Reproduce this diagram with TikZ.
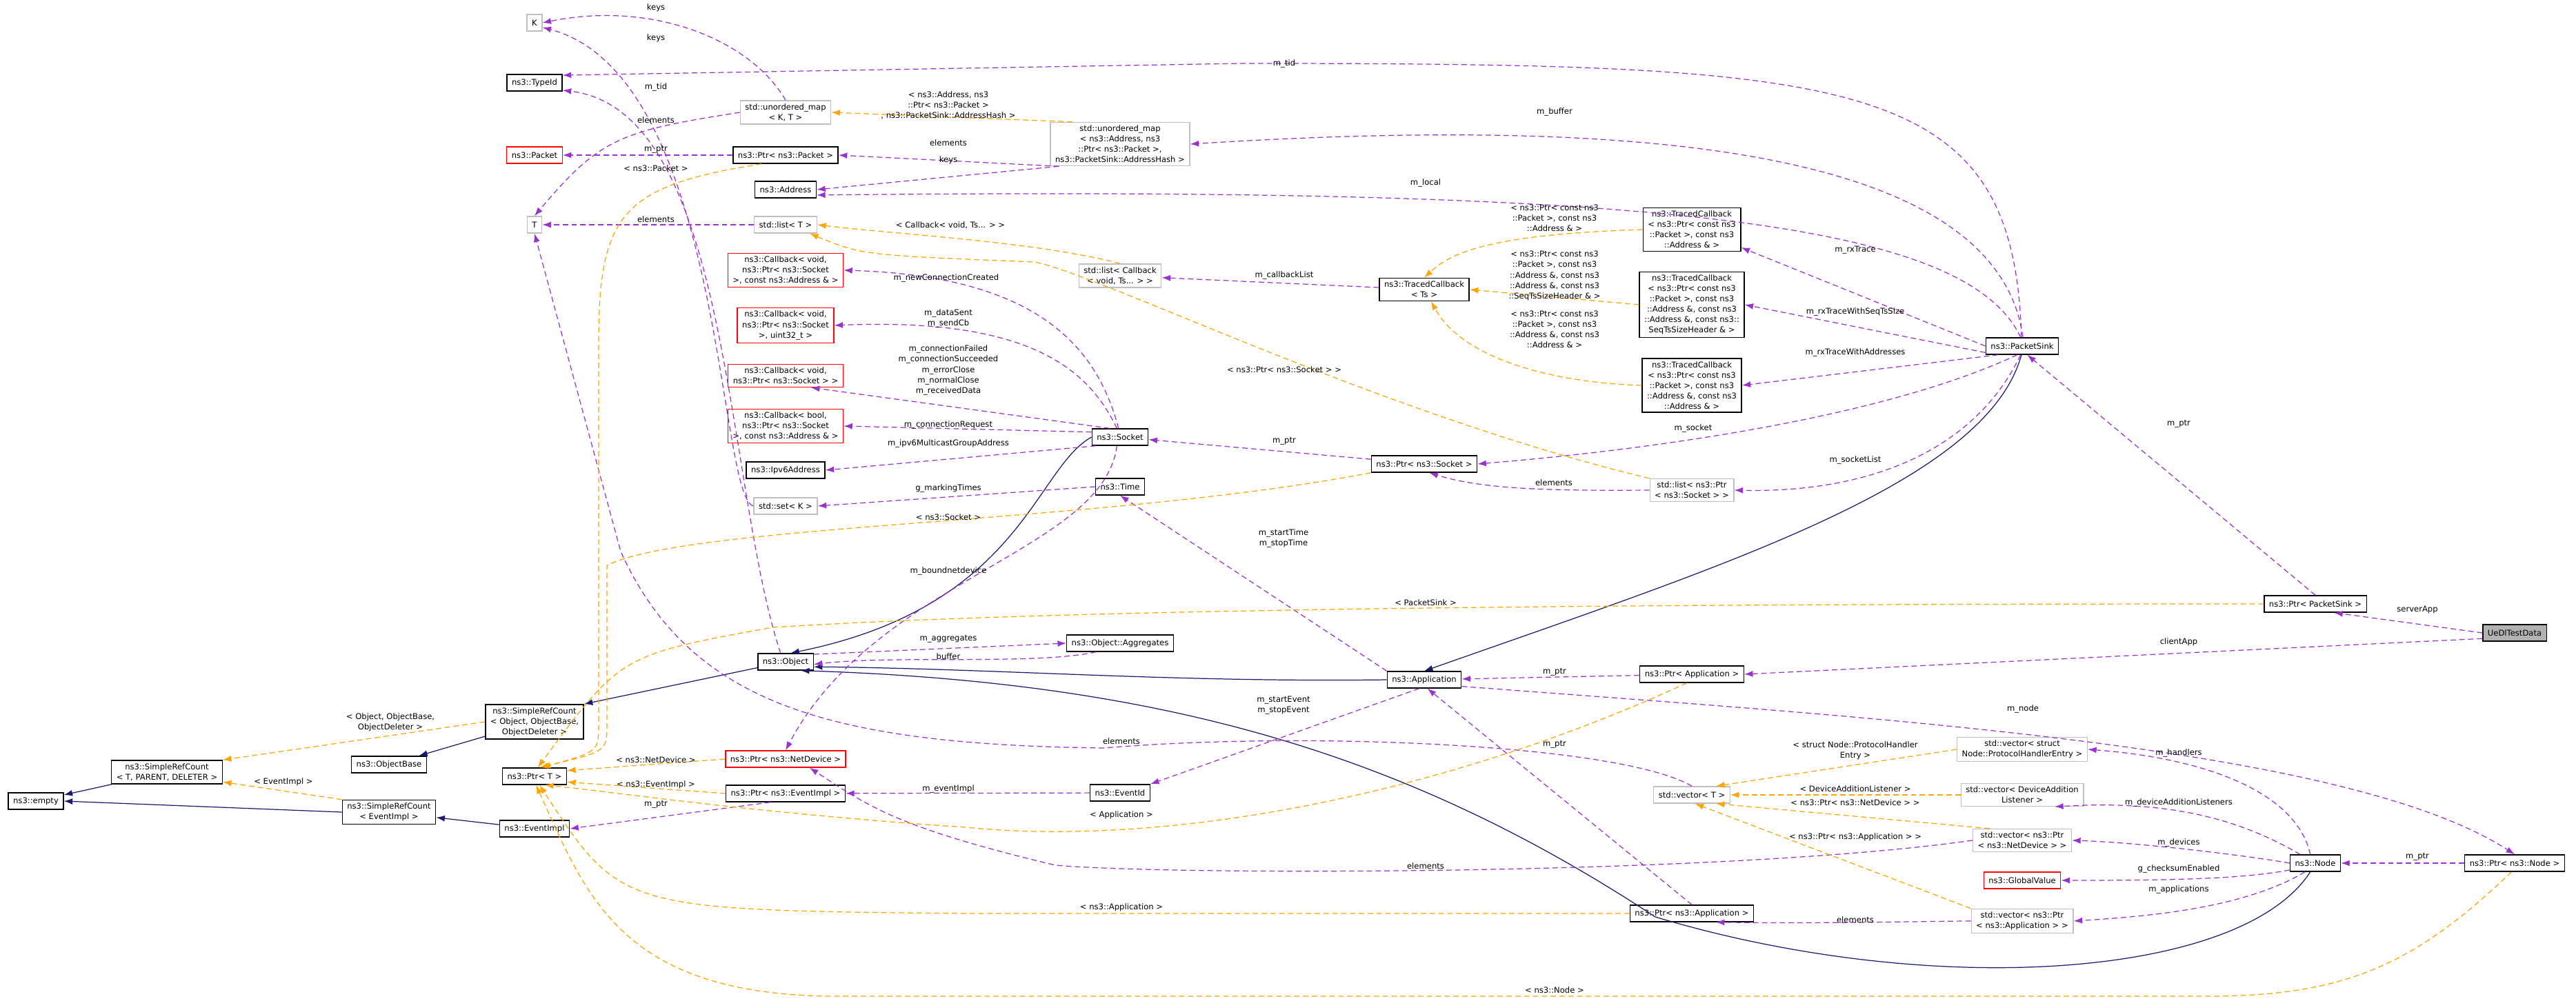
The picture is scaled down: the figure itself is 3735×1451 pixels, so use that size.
\documentclass[tikz,border=0pt]{standalone}
\usepackage{fontspec}
\setmainfont{DejaVu Sans}
\usetikzlibrary{arrows.meta,positioning}

\definecolor{usecol}{HTML}{9A32CD}
\definecolor{tplcol}{HTML}{FFA500}
\definecolor{inhcol}{HTML}{191970}
\definecolor{extcol}{HTML}{BFBFBF}

\tikzset{
  every node/.style={font=\fontsize{6.6}{8.6}\selectfont},
  cls/.style={draw=black, line width=0.8pt, fill=white, align=center, inner xsep=4pt, inner ysep=2.5pt, minimum height=0.48cm},
  ext/.style={cls, draw=extcol},
  trunc/.style={cls, draw=red},
  lbl/.style={align=center, inner sep=0pt},
  use/.style={draw=usecol, line width=0.7pt, dash pattern=on 4.5pt off 2.8pt, -{Latex[length=2.5mm,width=1.8mm]}},
  tpl/.style={use, draw=tplcol},
  inh/.style={draw=inhcol, line width=0.7pt, -{Latex[length=2.5mm,width=1.8mm]}}
}

\begin{document}
\begin{tikzpicture}[x=0.02cm,y=-0.02cm]
\useasboundingbox (0,0) rectangle (3735,1451);

% left column
\node[ext] (K) at (775,33) {K};
\node[cls] (typeId) at (775,120) {ns3::TypeId};
\node[trunc] (packet) at (775,225) {ns3::Packet};
\node[ext] (T) at (775,326) {T};
\node[cls] (srcObj) at (775,1047) {ns3::SimpleRefCount\\{}< Object, ObjectBase,\\ObjectDeleter >};
\node[cls] (objBase) at (564,1109) {ns3::ObjectBase};
\node[cls] (ptrT) at (775,1126) {ns3::Ptr< T >};
\node[cls] (srcTPD) at (242,1120) {ns3::SimpleRefCount\\{}< T, PARENT, DELETER >};
\node[cls] (empty) at (52,1162) {ns3::empty};
\node[cls] (srcEvt) at (564,1178) {ns3::SimpleRefCount\\{}< EventImpl >};
\node[cls] (evtImpl) at (775,1202) {ns3::EventImpl};

% second column
\node[ext] (umapKT) at (1139,163) {std::unordered\_map\\{}< K, T >};
\node[cls] (ptrPacket) at (1139,225) {ns3::Ptr< ns3::Packet >};
\node[cls] (address) at (1139,275) {ns3::Address};
\node[ext] (listT) at (1139,326) {std::list< T >};
\node[trunc] (cbA) at (1139,392) {ns3::Callback< void,\\ns3::Ptr< ns3::Socket\\{}>, const ns3::Address \& >};
\node[trunc] (cbB) at (1139,472) {ns3::Callback< void,\\ns3::Ptr< ns3::Socket\\{}>, uint32\_t >};
\node[trunc] (cbC) at (1139,545) {ns3::Callback< void,\\ns3::Ptr< ns3::Socket > >};
\node[trunc] (cbD) at (1139,618) {ns3::Callback< bool,\\ns3::Ptr< ns3::Socket\\{}>, const ns3::Address \& >};
\node[cls] (ipv6) at (1139,682) {ns3::Ipv6Address};
\node[ext] (setK) at (1139,734) {std::set< K >};
\node[cls] (object) at (1139,960) {ns3::Object};
\node[trunc] (ptrNetDev) at (1139,1101) {ns3::Ptr< ns3::NetDevice >};
\node[cls] (ptrEvtImpl) at (1139,1151) {ns3::Ptr< ns3::EventImpl >};

% third column
\node[ext] (umapBig) at (1624,209) {std::unordered\_map\\{}< ns3::Address, ns3\\::Ptr< ns3::Packet >,\\ ns3::PacketSink::AddressHash >};
\node[ext] (listCb) at (1624,400) {std::list< Callback\\{}< void, Ts... > >};
\node[cls] (socket) at (1624,634) {ns3::Socket};
\node[cls] (time) at (1624,706) {ns3::Time};
\node[cls] (aggregates) at (1624,933) {ns3::Object::Aggregates};
\node[cls] (eventId) at (1624,1150) {ns3::EventId};

% fourth column
\node[cls] (tcTs) at (2065,420) {ns3::TracedCallback\\{}< Ts >};
\node[cls] (ptrSocket) at (2065,673) {ns3::Ptr< ns3::Socket >};
\node[cls] (application) at (2065,986) {ns3::Application};

% fifth column
\node[cls] (tcA) at (2453,333) {ns3::TracedCallback\\{}< ns3::Ptr< const ns3\\::Packet >, const ns3\\::Address \& >};
\node[cls] (tcB) at (2453,442) {ns3::TracedCallback\\{}< ns3::Ptr< const ns3\\::Packet >, const ns3\\::Address \&, const ns3\\::Address \&, const ns3::\\SeqTsSizeHeader \& >};
\node[cls] (tcC) at (2453,559) {ns3::TracedCallback\\{}< ns3::Ptr< const ns3\\::Packet >, const ns3\\::Address \&, const ns3\\::Address \& >};
\node[ext] (listPtrSock) at (2453,711) {std::list< ns3::Ptr\\{}< ns3::Socket > >};
\node[cls] (ptrApp) at (2453,978) {ns3::Ptr< Application >};
\node[ext] (vectorT) at (2453,1153) {std::vector< T >};
\node[cls] (ptrNs3App) at (2453,1325) {ns3::Ptr< ns3::Application >};

% right side
\node[cls] (psink) at (2932,502) {ns3::PacketSink};
\node[ext] (vecHandlers) at (2932,1087) {std::vector< struct\\Node::ProtocolHandlerEntry >};
\node[ext] (vecDal) at (2932,1153) {std::vector< DeviceAddition\\Listener >};
\node[ext] (vecNetDev) at (2932,1219) {std::vector< ns3::Ptr\\{}< ns3::NetDevice > >};
\node[trunc] (globalValue) at (2932,1277) {ns3::GlobalValue};
\node[ext] (vecApp) at (2932,1336) {std::vector< ns3::Ptr\\{}< ns3::Application > >};
\node[cls] (ptrPsink) at (3357,876) {ns3::Ptr< PacketSink >};
\node[cls] (node) at (3357,1252) {ns3::Node};
\node[cls, fill=black!30] (ueDl) at (3646,918) {UeDlTestData};
\node[cls] (ptrNode) at (3646,1252) {ns3::Ptr< ns3::Node >};

% inheritance
\draw[inh] (srcTPD) -- (empty);
\draw[inh] (srcEvt.west) -- (empty.east);
\draw[inh] (srcObj) -- (objBase);
\draw[inh] (object) -- (srcObj.north east);
\draw[inh] (evtImpl) -- (srcEvt);
\draw[inh] (socket.west) .. controls (1500,680) and (1480,880) .. (object.60);
\draw[inh] (application.west) .. controls (1700,990) and (1450,970) .. (object.-10);
\draw[inh] (node.240) .. controls (3250,1420) and (2800,1450) .. (2400,1330) .. controls (2050,1100) and (1700,990) .. (object.-30);
\draw[inh] (psink.-95) .. controls (2880,700) and (2500,820) .. (application.north);

% members
\draw[use] (umapKT.north) .. controls (1090,60) and (950,0) .. (K.east);
\draw[use] (setK.west) .. controls (1040,720) and (1050,110) .. (K.-30);
\draw[use] (psink.95) .. controls (2920,110) and (2700,92) .. (1800,92) -- (typeId.15);
\draw[use] (object.120) .. controls (1050,700) and (1060,160) .. (typeId.-15);
\draw[use] (umapKT.west) .. controls (900,190) and (870,200) .. (T.north);
\draw[use] (ptrPacket) -- (packet);
\draw[use] (umapBig.200) -- (ptrPacket.east);
\draw[use] (umapBig.-160) -- (address.east);
\draw[use] (psink.85) .. controls (2900,250) and (2500,160) .. (umapBig.east);
\draw[use] (psink.100) .. controls (2850,320) and (2400,270) .. (address.-10);
\draw[use] (listT) -- (T);
\draw[use] (tcTs) -- (listCb);
\draw[use] (psink.west) -- (tcA.-20);
\draw[use] (psink.190) -- (tcB.east);
\draw[use] (psink.200) -- (tcC.east);
\draw[use] (psink.-120) .. controls (2700,620) and (2300,660) .. (ptrSocket.east);
\draw[use] (psink.-100) .. controls (2860,660) and (2700,715) .. (listPtrSock.east);
\draw[use] (listPtrSock.west) .. controls (2250,712) and (2150,710) .. (ptrSocket.-60);
\draw[use] (ptrSocket) -- (socket);
\draw[use] (socket.100) .. controls (1590,500) and (1500,400) .. (cbA.east);
\draw[use] (socket.110) .. controls (1580,540) and (1500,460) .. (cbB.east);
\draw[use] (socket.140) -- (cbC.-25);
\draw[use] (socket.170) -- (cbD.east);
\draw[use] (socket.200) -- (ipv6.east);
\draw[use] (time.west) -- (setK.east);
\draw[use] (socket.-110) .. controls (1600,800) and (1270,840) .. (ptrNetDev.north);
\draw[use] (object.15) -- (aggregates.west);
\draw[use] (aggregates.-160) .. controls (1500,965) and (1300,950) .. (object.-5);
\draw[use] (application.north west) -- (time.south);
\draw[use] (ptrApp) -- (application);
\draw[use] (application.-120) -- (eventId.north east);
\draw[use] (eventId) -- (ptrEvtImpl);
\draw[use] (ptrEvtImpl.-150) -- (evtImpl.east);
\draw[use] (vectorT.north) .. controls (2350,1080) and (1900,1060) .. (1600,1085) .. controls (1200,1080) and (1000,1020) .. (900,800) -- (T.south);
\draw[use] (ptrNs3App.north) -- (application.-70);
\draw[use] (vecNetDev.west) .. controls (2500,1270) and (1700,1270) .. (1530,1255) .. controls (1300,1200) and (1260,1170) .. (ptrNetDev.-20);
\draw[use] (vecApp.west) .. controls (2800,1336) and (2650,1340) .. (ptrNs3App.-20);
\draw[use] (node.120) .. controls (3330,1150) and (3200,1100) .. (vecHandlers.east);
\draw[use] (node.150) .. controls (3250,1190) and (3150,1160) .. (vecDal.-20);
\draw[use] (node.west) .. controls (3250,1240) and (3100,1222) .. (vecNetDev.east);
\draw[use] (node.-165) .. controls (3250,1275) and (3150,1277) .. (globalValue.east);
\draw[use] (node.-140) .. controls (3250,1320) and (3100,1330) .. (vecApp.east);
\draw[use] (ptrNode) -- (node);
\draw[use] (application.-10) .. controls (2700,1040) and (3400,1080) .. (ptrNode.north);
\draw[use] (ueDl.west) -- (ptrPsink.-25);
\draw[use] (ueDl.190) -- (ptrApp.east);
\draw[use] (ptrPsink.north) -- (psink.-60);

% template instances
\draw[tpl] (umapBig.155) -- (umapKT.east);
\draw[tpl] (ptrPacket.200) .. controls (900,270) and (868,310) .. (868,500) -- (868,1050) .. controls (868,1090) .. (ptrT.50);
\draw[tpl] (listCb.north) .. controls (1500,350) and (1300,340) .. (listT.east);
\draw[tpl] (listPtrSock.north west) .. controls (2000,600) and (1600,400) .. (1500,380) .. controls (1250,370) .. (listT.-20);
\draw[tpl] (tcA.west) .. controls (2150,340) and (2100,370) .. (tcTs.north);
\draw[tpl] (tcB.west) -- (tcTs.east);
\draw[tpl] (tcC.west) .. controls (2250,555) and (2120,520) .. (tcTs.-60);
\draw[tpl] (ptrSocket.south west) .. controls (1600,760) and (1000,760) .. (880,820) -- (880,1050) .. controls (880,1090) .. (ptrT.60);
\draw[tpl] (ptrPsink.west) .. controls (2500,876) and (1600,880) .. (1120,910) .. controls (900,950) .. (ptrT.70);
\draw[tpl] (srcObj.west) -- (srcTPD.north east);
\draw[tpl] (srcEvt.north west) -- (srcTPD.-10);
\draw[tpl] (ptrNetDev.west) -- (ptrT.10);
\draw[tpl] (ptrEvtImpl.west) -- (ptrT.-10);
\draw[tpl] (ptrApp.-120) .. controls (2100,1150) and (1700,1230) .. (1400,1200) .. controls (1100,1180) and (900,1150) .. (ptrT.-40);
\draw[tpl] (ptrNs3App.west) -- (1400,1325) .. controls (900,1320) .. (ptrT.-60);
\draw[tpl] (ptrNode.-110) .. controls (3500,1400) and (3400,1445) .. (3200,1445) -- (1200,1445) .. controls (900,1440) and (850,1300) .. (ptrT.-80);
\draw[tpl] (vecHandlers.west) -- (vectorT.20);
\draw[tpl] (vecDal.west) -- (vectorT.east);
\draw[tpl] (vecNetDev.160) -- (vectorT.-20);
\draw[tpl] (vecApp.north west) -- (vectorT.-70);

% edge labels
\node[lbl] (lbKeysA) at (951,11) {keys};
\node[lbl] (lbKeysB) at (951,55) {keys};
\node[lbl] (lbTidA) at (1862,92) {m\_tid};
\node[lbl] (lbTidB) at (951,126) {m\_tid};
\node[lbl] (lbElemA) at (951,174) {elements};
\node[lbl] (lbPtrA) at (951,217) {m\_ptr};
\node[lbl] (lbElemB) at (1375,207) {elements};
\node[lbl] (lbKeysC) at (1375,232) {keys};
\node[lbl] (lbBuffer) at (2254,162) {m\_buffer};
\node[lbl] (lbLocal) at (2067,265) {m\_local};
\node[lbl] (lbElemC) at (951,318) {elements};
\node[lbl] (lbCbList) at (1862,399) {m\_callbackList};
\node[lbl] (lbRx) at (2690,363) {m\_rxTrace};
\node[lbl] (lbRxSeq) at (2690,452) {m\_rxTraceWithSeqTsSize};
\node[lbl] (lbRxAddr) at (2690,511) {m\_rxTraceWithAddresses};
\node[lbl] (lbSocket) at (2455,621) {m\_socket};
\node[lbl] (lbSocketList) at (2690,667) {m\_socketList};
\node[lbl] (lbElemD) at (2253,700) {elements};
\node[lbl] (lbPtrB) at (1862,640) {m\_ptr};
\node[lbl] (lbNewConn) at (1372,403) {m\_newConnectionCreated};
\node[lbl] (lbSent) at (1375,462) {m\_dataSent\\m\_sendCb};
\node[lbl] (lbConn) at (1375,537) {m\_connectionFailed\\m\_connectionSucceeded\\m\_errorClose\\m\_normalClose\\m\_receivedData};
\node[lbl] (lbConnReq) at (1375,616) {m\_connectionRequest};
\node[lbl] (lbIpv6) at (1375,643) {m\_ipv6MulticastGroupAddress};
\node[lbl] (lbMarking) at (1375,708) {g\_markingTimes};
\node[lbl] (lbBound) at (1375,828) {m\_boundnetdevice};
\node[lbl] (lbAggr) at (1375,927) {m\_aggregates};
\node[lbl] (lbBuf) at (1375,952) {buffer};
\node[lbl] (lbTime) at (1861,781) {m\_startTime\\m\_stopTime};
\node[lbl] (lbPtrC) at (2254,975) {m\_ptr};
\node[lbl] (lbEvent) at (1861,1023) {m\_startEvent\\m\_stopEvent};
\node[lbl] (lbEvtImpl) at (1375,1144) {m\_eventImpl};
\node[lbl] (lbPtrD) at (951,1167) {m\_ptr};
\node[lbl] (lbElemE) at (1626,1075) {elements};
\node[lbl] (lbPtrE) at (2254,1080) {m\_ptr};
\node[lbl] (lbElemF) at (2067,1256) {elements};
\node[lbl] (lbElemG) at (2690,1334) {elements};
\node[lbl] (lbHandlers) at (3159,1092) {m\_handlers};
\node[lbl] (lbDal) at (3159,1164) {m\_deviceAdditionListeners};
\node[lbl] (lbDevices) at (3159,1222) {m\_devices};
\node[lbl] (lbChecksum) at (3159,1260) {g\_checksumEnabled};
\node[lbl] (lbApps) at (3159,1290) {m\_applications};
\node[lbl] (lbPtrF) at (3505,1243) {m\_ptr};
\node[lbl] (lbNode) at (2933,1028) {m\_node};
\node[lbl] (lbServer) at (3505,884) {serverApp};
\node[lbl] (lbClient) at (3159,931) {clientApp};
\node[lbl] (lbPtrG) at (3159,615) {m\_ptr};
\node[lbl] (lbTplA) at (1375,153) {< ns3::Address, ns3\\::Ptr< ns3::Packet >\\, ns3::PacketSink::AddressHash >};
\node[lbl] (lbTplB) at (951,244) {< ns3::Packet >};
\node[lbl] (lbTplC) at (1378,327) {< Callback< void, Ts... > >};
\node[lbl] (lbTplD) at (1862,536) {< ns3::Ptr< ns3::Socket > >};
\node[lbl] (lbTplE) at (2254,316) {< ns3::Ptr< const ns3\\::Packet >, const ns3\\::Address \& >};
\node[lbl] (lbTplF) at (2254,400) {< ns3::Ptr< const ns3\\::Packet >, const ns3\\::Address \&, const ns3\\::Address \&, const ns3\\::SeqTsSizeHeader \& >};
\node[lbl] (lbTplG) at (2254,478) {< ns3::Ptr< const ns3\\::Packet >, const ns3\\::Address \&, const ns3\\::Address \& >};
\node[lbl] (lbTplH) at (1375,750) {< ns3::Socket >};
\node[lbl] (lbTplI) at (2067,874) {< PacketSink >};
\node[lbl] (lbTplJ) at (566,1048) {< Object, ObjectBase,\\ObjectDeleter >};
\node[lbl] (lbTplK) at (411,1134) {< EventImpl >};
\node[lbl] (lbTplL) at (951,1102) {< ns3::NetDevice >};
\node[lbl] (lbTplM) at (951,1138) {< ns3::EventImpl >};
\node[lbl] (lbTplN) at (1626,1182) {< Application >};
\node[lbl] (lbTplO) at (1626,1316) {< ns3::Application >};
\node[lbl] (lbTplP) at (2254,1436) {< ns3::Node >};
\node[lbl] (lbTplQ) at (2690,1089) {< struct Node::ProtocolHandler\\Entry >};
\node[lbl] (lbTplR) at (2690,1144) {< DeviceAdditionListener >};
\node[lbl] (lbTplS) at (2690,1164) {< ns3::Ptr< ns3::NetDevice > >};
\node[lbl] (lbTplT) at (2690,1214) {< ns3::Ptr< ns3::Application > >};
\end{tikzpicture}
\end{document}
